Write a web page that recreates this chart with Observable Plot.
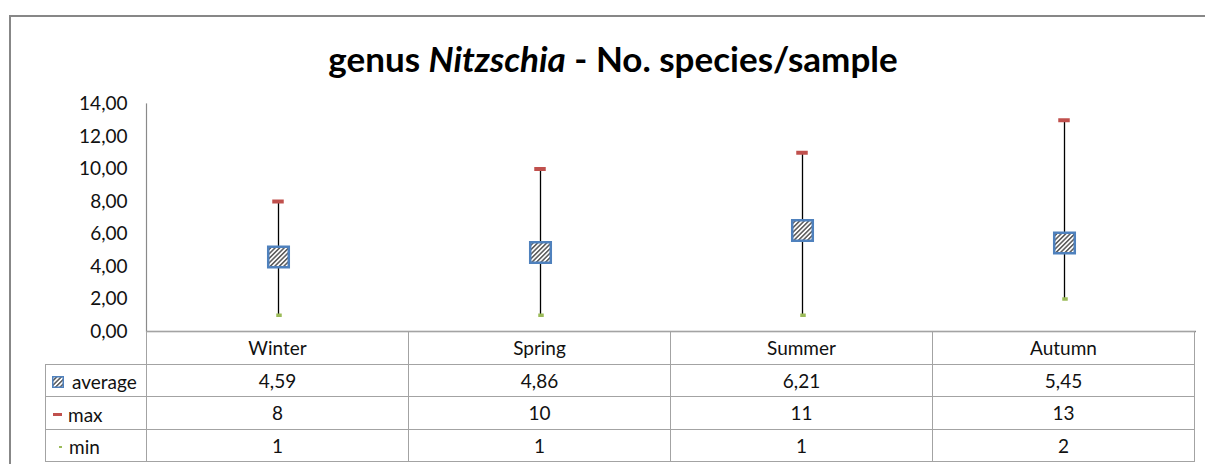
<!DOCTYPE html>
<html>
<head>
<meta charset="utf-8">
<script src="https://cdn.jsdelivr.net/npm/d3@7"></script>
<script src="https://cdn.jsdelivr.net/npm/@observablehq/plot@0.6"></script>
<style>
html, body { margin: 0; padding: 0; background: #fff; }
#wrap { position: relative; width: 1205px; height: 464px; overflow: hidden; font-family: Lato, "Open Sans", sans-serif; color: #111; }
#border { position: absolute; left: 9px; top: 15px; width: 1400px; height: 700px; border: 2px solid #878787; box-sizing: border-box; }
#title { position: absolute; left: 0; width: 1226px; top: 37px; line-height: 42px; text-align: center; font-weight: bold; font-size: 35px; color: #000; }
#chart { position: absolute; left: 0; top: 0; }
table.dt { position: absolute; border-collapse: collapse; table-layout: fixed; font-size: 19px; }
table.dt td { border: 1px solid #a3a3a3; padding: 0; text-align: center; white-space: nowrap; overflow: hidden; }
table.dt td.empty { border-top: none; border-left: none; }
table.dt td.leg { text-align: left; }
table.dt td.leg span.ic { display: inline-block; vertical-align: middle; line-height: 0; }
table.dt td.leg span.tx { vertical-align: middle; }
</style>
</head>
<body>
<div id="wrap">
  <div id="border"></div>
  <div id="title">genus <i>Nitzschia</i> - No. species/sample</div>
  <div id="chart"></div>
</div>
<script>
// ---- data ----
const seasons = ["Winter", "Spring", "Summer", "Autumn"];
const average = [4.59, 4.86, 6.21, 5.45];
const maxv = [8, 10, 11, 13];
const minv = [1, 1, 1, 2];
const yTicks = [0, 2, 4, 6, 8, 10, 12, 14];
const rowNames = ["average", "max", "min"];

const data = seasons.map((s, i) => ({season: s, average: average[i], max: maxv[i], min: minv[i]}));

// ---- layout ----
const plotLeft = 146, plotRight = 1196, plotTop = 103.5, plotBottom = 331;
const bw = (plotRight - plotLeft) / seasons.length;
const comma2 = d => d.toFixed(2).replace(".", ",");

const plot = Plot.plot({
  width: 1205,
  height: plotBottom + 2,
  marginLeft: plotLeft,
  marginRight: 1205 - plotRight,
  marginTop: plotTop,
  marginBottom: 2,
  style: {fontFamily: "Lato, 'Open Sans', sans-serif", fontSize: "19px", color: "#111", background: "transparent", overflow: "visible"},
  x: {domain: seasons, padding: 0, axis: null},
  y: {domain: [0, 14], axis: null},
  marks: [
    Plot.axisY({ticks: yTicks, tickSize: 0, tickPadding: 19, tickFormat: comma2, fontSize: 19}),
    Plot.frame({anchor: "left", stroke: "#8a8a8a", strokeWidth: 1.2}),
    Plot.ruleY([0], {stroke: "#8a8a8a", strokeWidth: 1.5}),
    Plot.ruleX(data, {x: "season", y1: "min", y2: "max", stroke: "#000", strokeWidth: 1.3}),
    Plot.tickY(data, {x: "season", y: "max", stroke: "#C0504D", strokeWidth: 4, inset: (bw - 12) / 2}),
    Plot.tickY(data, {x: "season", y: "min", stroke: "#9BBB59", strokeWidth: 3.5, insetLeft: (bw - 6) / 2 + 1, insetRight: (bw - 6) / 2 - 1}),
    Plot.dot(data, {x: "season", y: "average", symbol: "square", r: 11.6, fill: "url(#hatch)", stroke: "#4F81BD", strokeWidth: 2.5})
  ]
});

// hatch pattern
function addHatch(svgSel, id) {
  const defs = svgSel.insert("defs", ":first-child");
  const pat = defs.append("pattern").attr("id", id)
    .attr("patternUnits", "userSpaceOnUse").attr("width", 3.2).attr("height", 3.2)
    .attr("patternTransform", "rotate(45)");
  pat.append("rect").attr("width", 3.2).attr("height", 3.2).attr("fill", "#fff");
  pat.append("line").attr("x1", 0.8).attr("y1", 0).attr("x2", 0.8).attr("y2", 3.2)
    .attr("stroke", "#4a4a4a").attr("stroke-width", 1.4);
}
addHatch(d3.select(plot), "hatch");
document.getElementById("chart").appendChild(plot);

// ---- data table ----
const xs = plot.scale("x");
const x0 = xs.range[0];
const band = xs.bandwidth;
const tableLeft = 45, rowH = [32.5, 32.5, 32.5, 32.5];

const table = d3.select("#wrap").append("table").attr("class", "dt")
  .style("left", tableLeft + "px").style("top", plotBottom + "px");
const cg = table.append("colgroup");
cg.append("col").style("width", (x0 - tableLeft) + "px");
seasons.forEach(() => cg.append("col").style("width", band + "px"));

const hdr = table.append("tr").style("height", rowH[0] + "px");
hdr.append("td").attr("class", "empty");
seasons.forEach(s => hdr.append("td").text(s));

const rowVals = {
  average: average.map(comma2),
  max: maxv.map(String),
  min: minv.map(String)
};
const icons = {
  average: {ml: 6, w: 12, h: 12, gap: 8},
  max: {ml: 7, w: 9, h: 3, gap: 6},
  min: {ml: 13, w: 3, h: 2, gap: 7}
};
rowNames.forEach((r, i) => {
  const tr = table.append("tr").style("height", rowH[i + 1] + "px");
  const lg = tr.append("td").attr("class", "leg");
  const ic = icons[r];
  const sp = lg.append("span").attr("class", "ic")
    .style("margin-left", ic.ml + "px").style("margin-right", ic.gap + "px");
  const s = sp.append("svg").attr("width", ic.w).attr("height", ic.h).style("display", "block");
  if (r === "average") {
    addHatch(s, "hatchLeg");
    s.append("rect").attr("x", 0.75).attr("y", 0.75).attr("width", ic.w - 1.5).attr("height", ic.h - 1.5)
      .attr("fill", "url(#hatchLeg)").attr("stroke", "#4F81BD").attr("stroke-width", 1.5);
  } else {
    s.append("rect").attr("width", ic.w).attr("height", ic.h)
      .attr("fill", r === "max" ? "#C0504D" : "#9BBB59");
  }
  lg.append("span").attr("class", "tx").text(r);
  rowVals[r].forEach(v => tr.append("td").text(v));
});
</script>
</body>
</html>
